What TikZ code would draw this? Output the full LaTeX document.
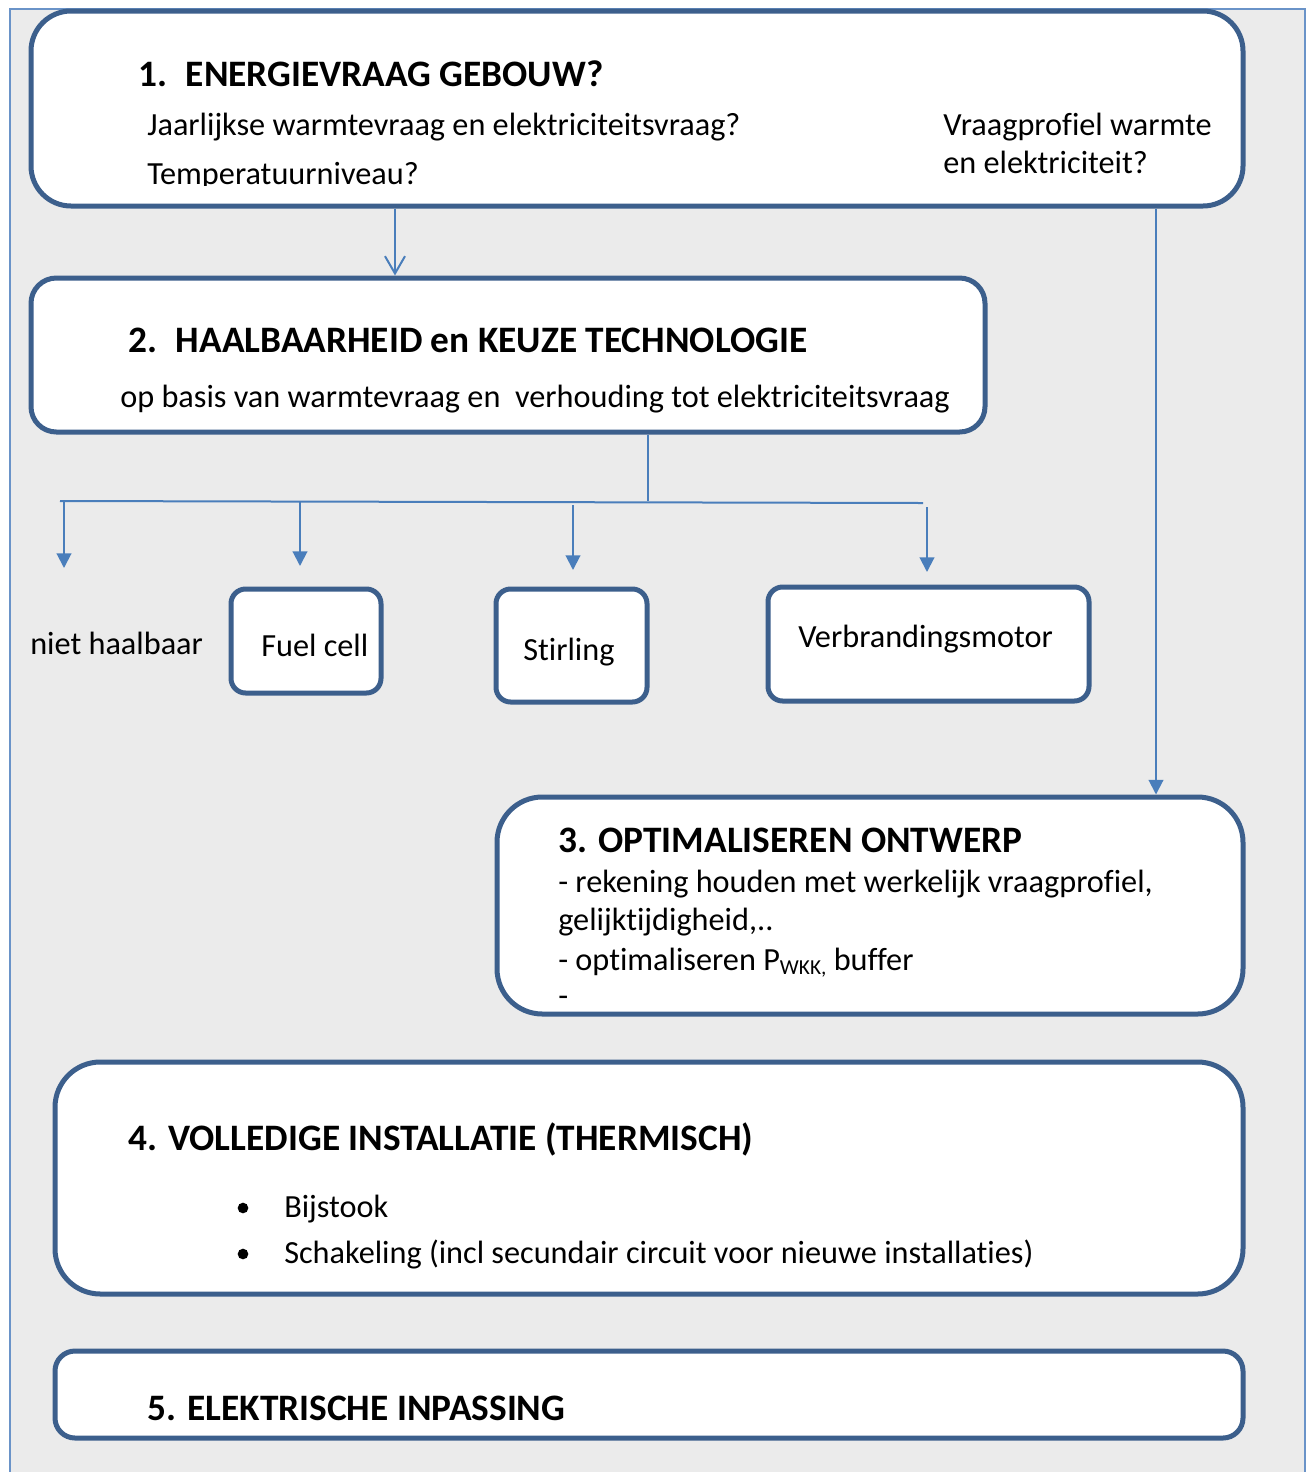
\documentclass[tikz,border=0pt]{standalone}
\usepackage{fontspec}
\setmainfont{Carlito}[Ligatures=NoCommon]
\usetikzlibrary{arrows.meta}
\definecolor{boxblue}{HTML}{3C5F8C}
\definecolor{arrblue}{HTML}{4A7EBB}
\definecolor{bggrey}{HTML}{EBEBEB}
\definecolor{frameblue}{HTML}{6A93C8}
\tikzset{
  box/.style={draw=boxblue, line width=3.75pt, fill=white, inner sep=0pt},
  body/.style={anchor=base west, inner sep=0pt, font=\fontsize{24.2pt}{29pt}\selectfont},
  head/.style={anchor=base west, inner sep=0pt, font=\fontsize{28pt}{33pt}\selectfont\bfseries},
  conn/.style={draw=arrblue, line width=1.5pt},
  fillarrow/.style={conn, -{Triangle[width=11pt,length=11pt]}},
  openarrow/.style={conn, -{Straight Barb[width=15pt,length=13pt,line width=1.5pt]}}
}
\begin{document}
\begin{tikzpicture}[x=0.75pt,y=-0.75pt]
\useasboundingbox (0,0) rectangle (1312,1472);
\fill[white] (0,0) rectangle (1312,1472);
\begin{scope}
\clip (0,0) rectangle (1312,1472);
\draw[frameblue, fill=bggrey, line width=1pt] (10,9) rectangle (1305,1490);
\end{scope}

% boxes
\node[box, rounded corners=30pt, minimum width=909pt, minimum height=146.25pt] (b1) at (637,108.5) {};
\node[box, rounded corners=19pt, minimum width=715.5pt, minimum height=115.5pt] (b2) at (508,355) {};
\node[box, rounded corners=11pt, minimum width=112.5pt, minimum height=78pt] (fc) at (306,641) {};
\node[box, rounded corners=11pt, minimum width=113.25pt, minimum height=84.75pt] (st) at (571.5,645.5) {};
\node[box, rounded corners=11pt, minimum width=240.75pt, minimum height=85.5pt] (vm) at (928.5,644) {};
\node[box, rounded corners=34pt, minimum width=559.5pt, minimum height=162.75pt] (b3) at (870,905.5) {};
\node[box, rounded corners=34pt, minimum width=891pt, minimum height=174pt] (b4) at (649,1178) {};
\node[box, rounded corners=15pt, minimum width=891pt, minimum height=65.25pt] (b5) at (649,1394.5) {};

% texts box 1
\node[head] (t1) at (138,86) {1.\hspace{0.5em}ENERGIEVRAAG GEBOUW?};
\node[body] (t1a) at (147,135) {Jaarlijkse warmtevraag en elektriciteitsvraag?};
\begin{scope}
\clip (100,140) rectangle (700,185);
\node[body] (t1b) at (147,184) {Temperatuurniveau?};
\end{scope}
\node[body] (t1c) at (943,135) {Vraagprofiel warmte};
\node[body] (t1d) at (943,173) {en elektriciteit?};

% texts box 2
\node[head] (t2) at (128,352) {2.\hspace{0.5em}HAALBAARHEID en KEUZE TECHNOLOGIE};
\node[body] (t2a) at (120,407) {op basis van warmtevraag en\ \ verhouding tot elektriciteitsvraag};

% technologies
\node[body] (nh) at (30,654) {niet haalbaar};
\node[body] (tfc) at (261,656) {Fuel cell};
\node[body] (tst) at (523,660) {Stirling};
\node[body] (tvm) at (798,647) {Verbrandingsmotor};

% box 3
\node[head] (t3) at (558,852) {3. OPTIMALISEREN ONTWERP};
\node[body] (t3a) at (558,892) {- rekening houden met werkelijk vraagprofiel,};
\node[body] (t3b) at (558,930) {gelijktijdigheid,..};
\node[body] (t3c) at (558,970) {- optimaliseren P{\fontsize{16pt}{18pt}\selectfont\raisebox{-3pt}{WKK,}} buffer};
\node[body] (t3d) at (558,1006) {-};

% box 4
\node[head] (t4) at (128,1150) {4. VOLLEDIGE INSTALLATIE (THERMISCH)};
\fill (243,1208) circle (4pt);
\fill (243,1254) circle (4pt);
\node[body] (t4a) at (284,1217) {Bijstook};
\node[body] (t4b) at (284,1263) {Schakeling (incl secundair circuit voor nieuwe installaties)};

% box 5
\node[head] (t5) at (147,1420) {5. ELEKTRISCHE INPASSING};

% connectors
\coordinate (ca) at (395,0);
\coordinate (cb) at (1156,0);
\draw[openarrow] (b1.south -| ca) -- (b2.north -| ca);
\draw[fillarrow] (b1.south -| cb) -- (b3.north -| cb);

\coordinate (hub) at (648,501);
\coordinate (hl) at (60,501);
\coordinate (hr) at (923,503);
\draw[conn] (b2.south -| hub) -- (hub);
\draw[conn] (hl) -- (hr);

\coordinate (a1s) at (64,502);   \coordinate (a1e) at (64,568);
\coordinate (a2s) at (300,502);  \coordinate (a2e) at (300,566);
\coordinate (a3s) at (573,505);  \coordinate (a3e) at (573,570);
\coordinate (a4s) at (927,507);  \coordinate (a4e) at (927,572);
\draw[fillarrow] (a1s) -- (a1e);
\draw[fillarrow] (a2s) -- (a2e);
\draw[fillarrow] (a3s) -- (a3e);
\draw[fillarrow] (a4s) -- (a4e);
\end{tikzpicture}
\end{document}
